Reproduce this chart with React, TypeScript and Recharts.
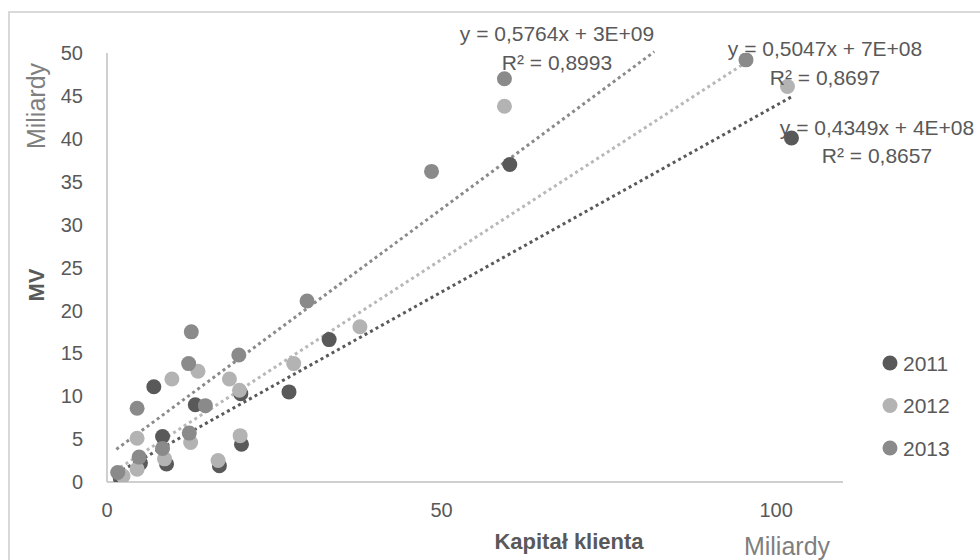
import React from 'react';
import { ScatterChart, Scatter, XAxis, YAxis, ReferenceLine } from 'recharts';

// Values in billions (Miliardy)
const years = ['2011', '2012', '2013'];

const capital2011 = [2.0, 5.0, 8.3, 8.9, 7.0, 13.2, 16.8, 20.1, 20.0, 27.2, 33.2, 60.2, 102.3];
const mv2011 = [0.4, 2.2, 5.3, 2.1, 11.1, 9.0, 1.9, 4.4, 10.3, 10.5, 16.6, 37.0, 40.1];

const capital2012 = [2.4, 4.5, 8.6, 4.5, 12.5, 16.6, 19.9, 9.7, 13.6, 18.3, 19.8, 27.9, 37.8, 59.4, 101.7];
const mv2012 = [0.7, 1.5, 2.7, 5.1, 4.6, 2.5, 5.4, 12.0, 12.9, 12.0, 10.7, 13.8, 18.1, 43.8, 46.1];

const capital2013 = [1.6, 4.8, 8.3, 4.5, 12.3, 12.2, 12.6, 14.7, 19.7, 29.9, 48.5, 59.4, 95.5];
const mv2013 = [1.1, 2.9, 3.9, 8.6, 5.7, 13.8, 17.5, 8.9, 14.8, 21.1, 36.2, 47.0, 49.2];

// Trendlines (from the equations shown on the chart; intercepts in billions)
const trendSlopes = [0.4349, 0.5047, 0.5764];
const trendIntercepts = [0.4, 0.7, 3];
const trendStartX = [1.5, 2.0, 1.4];
const trendEndX = [102.3, 95.5, 81.8];
const equationLabels = ['y = 0,4349x + 4E+08', 'y = 0,5047x + 7E+08', 'y = 0,5764x + 3E+09'];
const r2Labels = ['R² = 0,8657', 'R² = 0,8697', 'R² = 0,8993'];

const xTicks = [0, 50, 100];
const yTicks = [0, 5, 10, 15, 20, 25, 30, 35, 40, 45, 50];

const seriesColors = ['#595959', '#b3b3b3', '#8a8a8a'];
const trendColors = ['#595959', '#b8b8b8', '#8a8a8a'];

const xs = [capital2011, capital2012, capital2013];
const ys = [mv2011, mv2012, mv2013];

const W = 980;
const H = 560;
const FONT = '"Liberation Sans", Arial, sans-serif';
const TEXT = '#595959';

// label layout (pixel positions for annotation text)
const eqLayout = [
  { cx: 877, y1: 127, y2: 155 },
  { cx: 825, y1: 48, y2: 77 },
  { cx: 557, y1: 33, y2: 62 },
];

export default function App() {
  const seriesData = years.map((_, i) => xs[i].map((x, j) => ({ x, y: ys[i][j] })));

  return (
    <div style={{ position: 'absolute', left: 0, top: 0, width: W, height: H, background: '#fff', overflow: 'hidden', fontFamily: FONT }}>
      <div style={{ position: 'absolute', left: 8, top: 11, width: 1000, height: 600, border: '2px solid #d9d9d9', boxSizing: 'border-box' }} />
      <div style={{ position: 'absolute', left: 0, top: 0 }}>
        <ScatterChart width={W} height={H} margin={{ top: 53, right: 137, bottom: 0, left: 0 }}>
          <XAxis
            type="number"
            dataKey="x"
            domain={[0, 110]}
            ticks={xTicks}
            height={78}
            tickSize={0}
            tickMargin={21}
            allowDataOverflow
            axisLine={{ stroke: '#bfbfbf', strokeWidth: 1.5 }}
            tickLine={false}
            tick={{ fill: TEXT, fontSize: 20, fontFamily: FONT }}
          />
          <YAxis
            type="number"
            dataKey="y"
            domain={[0, 50]}
            ticks={yTicks}
            width={107}
            tickSize={0}
            tickMargin={24}
            allowDataOverflow
            axisLine={{ stroke: '#bfbfbf', strokeWidth: 1.5 }}
            tickLine={false}
            tick={{ fill: TEXT, fontSize: 20, fontFamily: FONT }}
          />
          {years.map((yr, i) => (
            <Scatter
              key={yr}
              name={yr}
              data={seriesData[i]}
              isAnimationActive={false}
              shape={(p: any) => <circle cx={p.cx} cy={p.cy} r={7.5} fill={seriesColors[i]} />}
            />
          ))}
          {years.map((yr, i) => (
            <ReferenceLine
              key={'t' + yr}
              segment={[
                { x: trendStartX[i], y: trendSlopes[i] * trendStartX[i] + trendIntercepts[i] },
                { x: trendEndX[i], y: trendSlopes[i] * trendEndX[i] + trendIntercepts[i] },
              ]}
              stroke={trendColors[i]}
              strokeWidth={3}
              strokeDasharray="3 3.3"
              ifOverflow="visible"
            />
          ))}
        </ScatterChart>
      </div>
      <svg width={W} height={H} style={{ position: 'absolute', left: 0, top: 0, pointerEvents: 'none' }}>
        {years.map((yr, i) => (
          <g key={'eq' + yr} fontFamily={FONT} fontSize={21} fill={TEXT} textAnchor="middle">
            <text x={eqLayout[i].cx} y={eqLayout[i].y1} dominantBaseline="central">{equationLabels[i]}</text>
            <text x={eqLayout[i].cx} y={eqLayout[i].y2} dominantBaseline="central">{r2Labels[i]}</text>
          </g>
        ))}
        <text x={36} y={285} transform="rotate(-90 36 285)" textAnchor="middle" dominantBaseline="central" fontFamily={FONT} fontSize={22} fontWeight="bold" fill={TEXT}>MV</text>
        <text x={36} y={106} transform="rotate(-90 36 106)" textAnchor="middle" dominantBaseline="central" fontFamily={FONT} fontSize={25} fill="#7f7f7f">Miliardy</text>
        <text x={569} y={541} textAnchor="middle" dominantBaseline="central" fontFamily={FONT} fontSize={22} fontWeight="bold" fill={TEXT}>Kapitał klienta</text>
        <text x={787} y={546} textAnchor="middle" dominantBaseline="central" fontFamily={FONT} fontSize={25} fill="#7f7f7f">Miliardy</text>
        {years.map((yr, i) => (
          <g key={'lg' + yr}>
            <circle cx={890} cy={363 + i * 42.5} r={7.5} fill={seriesColors[i]} />
            <text x={903} y={363 + i * 42.5} dominantBaseline="central" fontFamily={FONT} fontSize={21} fill={TEXT}>{yr}</text>
          </g>
        ))}
      </svg>
    </div>
  );
}
